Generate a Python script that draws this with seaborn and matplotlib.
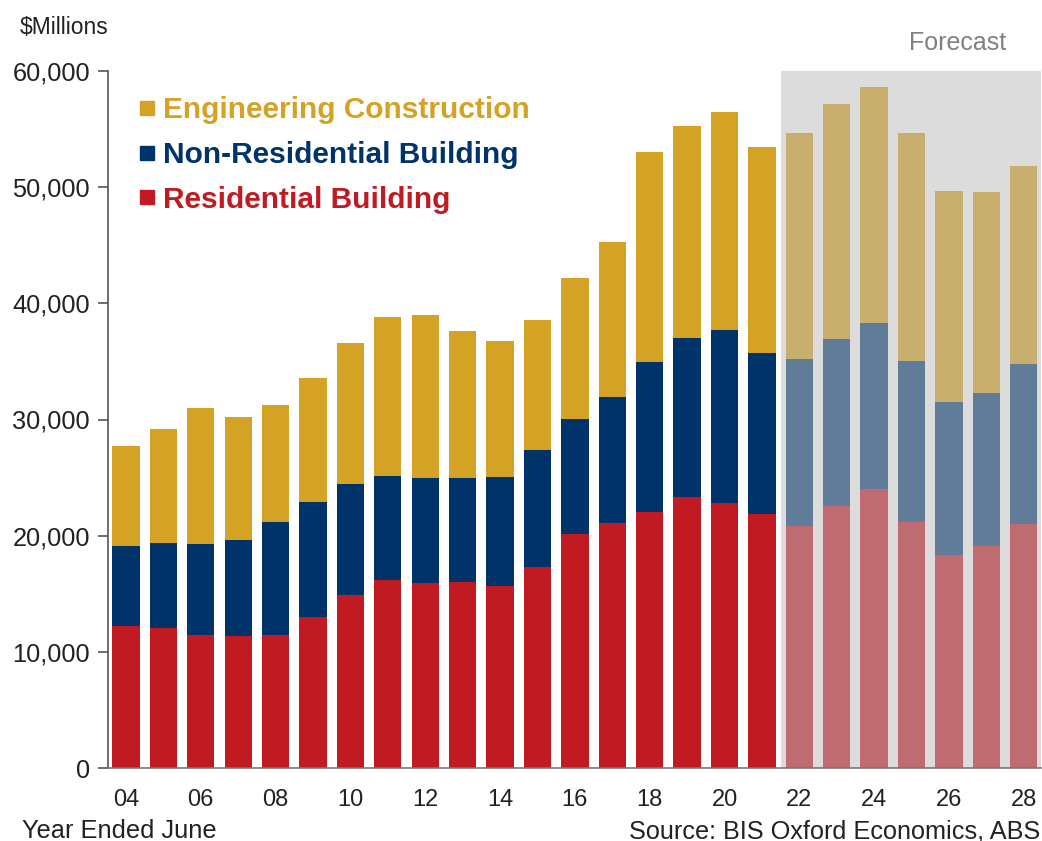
import pandas as pd
import numpy as np
import matplotlib.pyplot as plt
import seaborn as sns
from matplotlib.lines import Line2D

# --- data ($ millions, year ended June) ---
years = ['04', '05', '06', '07', '08', '09', '10', '11', '12', '13', '14', '15', '16',
         '17', '18', '19', '20', '21', '22', '23', '24', '25', '26', '27', '28']
residential = [12230, 12090, 11490, 11320, 11460, 13040, 14880, 16190, 15960, 16050, 15680, 17340, 20170,
               21090, 22000, 23320, 22800, 21860, 20860, 22570, 24000, 21200, 18370, 19140, 20970]
non_residential = [6910, 7280, 7770, 8310, 9740, 9870, 9600, 8920, 9010, 8920, 9400, 10030, 9910,
                   10850, 12910, 13710, 14880, 13850, 14340, 14400, 14340, 13860, 13110, 13140, 13800]
engineering = [8580, 9770, 11740, 10590, 10050, 10690, 12140, 13720, 13990, 12680, 11690, 11230, 12140,
               13350, 18080, 18270, 18820, 17790, 19480, 20190, 20280, 19620, 18230, 17310, 17050]
first_forecast = '22'

df = pd.DataFrame({'Year': years, 'Residential': residential,
                   'NonResidential': non_residential, 'Engineering': engineering})
df['Forecast'] = df['Year'].astype(int) >= int(first_forecast)
df['Top_Res'] = df['Residential']
df['Top_NonRes'] = df['Residential'] + df['NonResidential']
df['Top_Eng'] = df['Top_NonRes'] + df['Engineering']

# colours: actual / forecast (faded)
gold, gold_f = '#D4A224', '#C8AF6E'
navy, navy_f = '#00336A', '#617C98'
red, red_f = '#C01A22', '#C06B71'

plt.rcParams['font.family'] = ['Liberation Sans', 'DejaVu Sans']
fig = plt.figure(figsize=(10.42, 8.41), dpi=100)
ax = fig.add_axes([108 / 1042, 73 / 841, 933 / 1042, 697 / 841])

# forecast shading
idx0 = years.index(first_forecast)
ax.axvspan(idx0 - 0.5, 30, color='#DCDCDC', zorder=0, lw=0)

for col, c_act, c_fc in [('Top_Eng', gold, gold_f), ('Top_NonRes', navy, navy_f), ('Top_Res', red, red_f)]:
    pal = {y: (c_fc if f else c_act) for y, f in zip(df['Year'], df['Forecast'])}
    sns.barplot(data=df, x='Year', y=col, hue='Year', palette=pal, width=0.73,
                linewidth=0, saturation=1, legend=False, ax=ax, zorder=2)

ax.set_xlim(-0.48, 24.46)
ax.set_ylim(0, 60000)
ax.set_yticks(range(0, 60001, 10000))
ax.set_yticklabels([f'{v:,}' for v in range(0, 60001, 10000)], fontsize=18.3, color='#222222')
ax.set_xticks(range(0, len(years), 2))
ax.set_xticklabels(years[::2], fontsize=17, color='#222222')
ax.tick_params(axis='x', length=0, pad=15)
ax.tick_params(axis='y', length=7, width=1.2, color='#555555', pad=6, direction='out')
ax.set_xlabel('')
ax.set_ylabel('')
for s in ['top', 'right']:
    ax.spines[s].set_visible(False)
ax.spines['left'].set_color('#555555')
ax.spines['left'].set_linewidth(1.2)
ax.spines['bottom'].set_color('#777777')
ax.spines['bottom'].set_linewidth(1.2)
ax.set_facecolor('white')

# legend
handles = [Line2D([], [], ls='', marker='s', ms=10, color=gold),
           Line2D([], [], ls='', marker='s', ms=10, color=navy),
           Line2D([], [], ls='', marker='s', ms=10, color=red)]
labels = ['Engineering Construction', 'Non-Residential Building', 'Residential Building']
leg = ax.legend(handles, labels, loc='upper left', bbox_to_anchor=(0.016, 0.985), frameon=False,
                handlelength=0.6, handletextpad=0.25, labelspacing=0.56, borderpad=0,
                prop={'size': 21.5, 'weight': 'bold'})
for t, c in zip(leg.get_texts(), [gold, navy, red]):
    t.set_color(c)

fig.text(20 / 1042, 1 - 28 / 841, '$Millions', fontsize=16.5, va='center', ha='left', color='#222222')
fig.text(958 / 1042, 1 - 43 / 841, 'Forecast', fontsize=18, va='center', ha='center', color='#808080')
fig.text(22 / 1042, 1 - 831 / 841, 'Year Ended June', fontsize=18.3, va='center', ha='left', color='#222222')
fig.text(1040 / 1042, 1 - 831 / 841, 'Source: BIS Oxford Economics, ABS', fontsize=18.2,
         va='center', ha='right', color='#222222')

fig.savefig('out.png', dpi=100)
